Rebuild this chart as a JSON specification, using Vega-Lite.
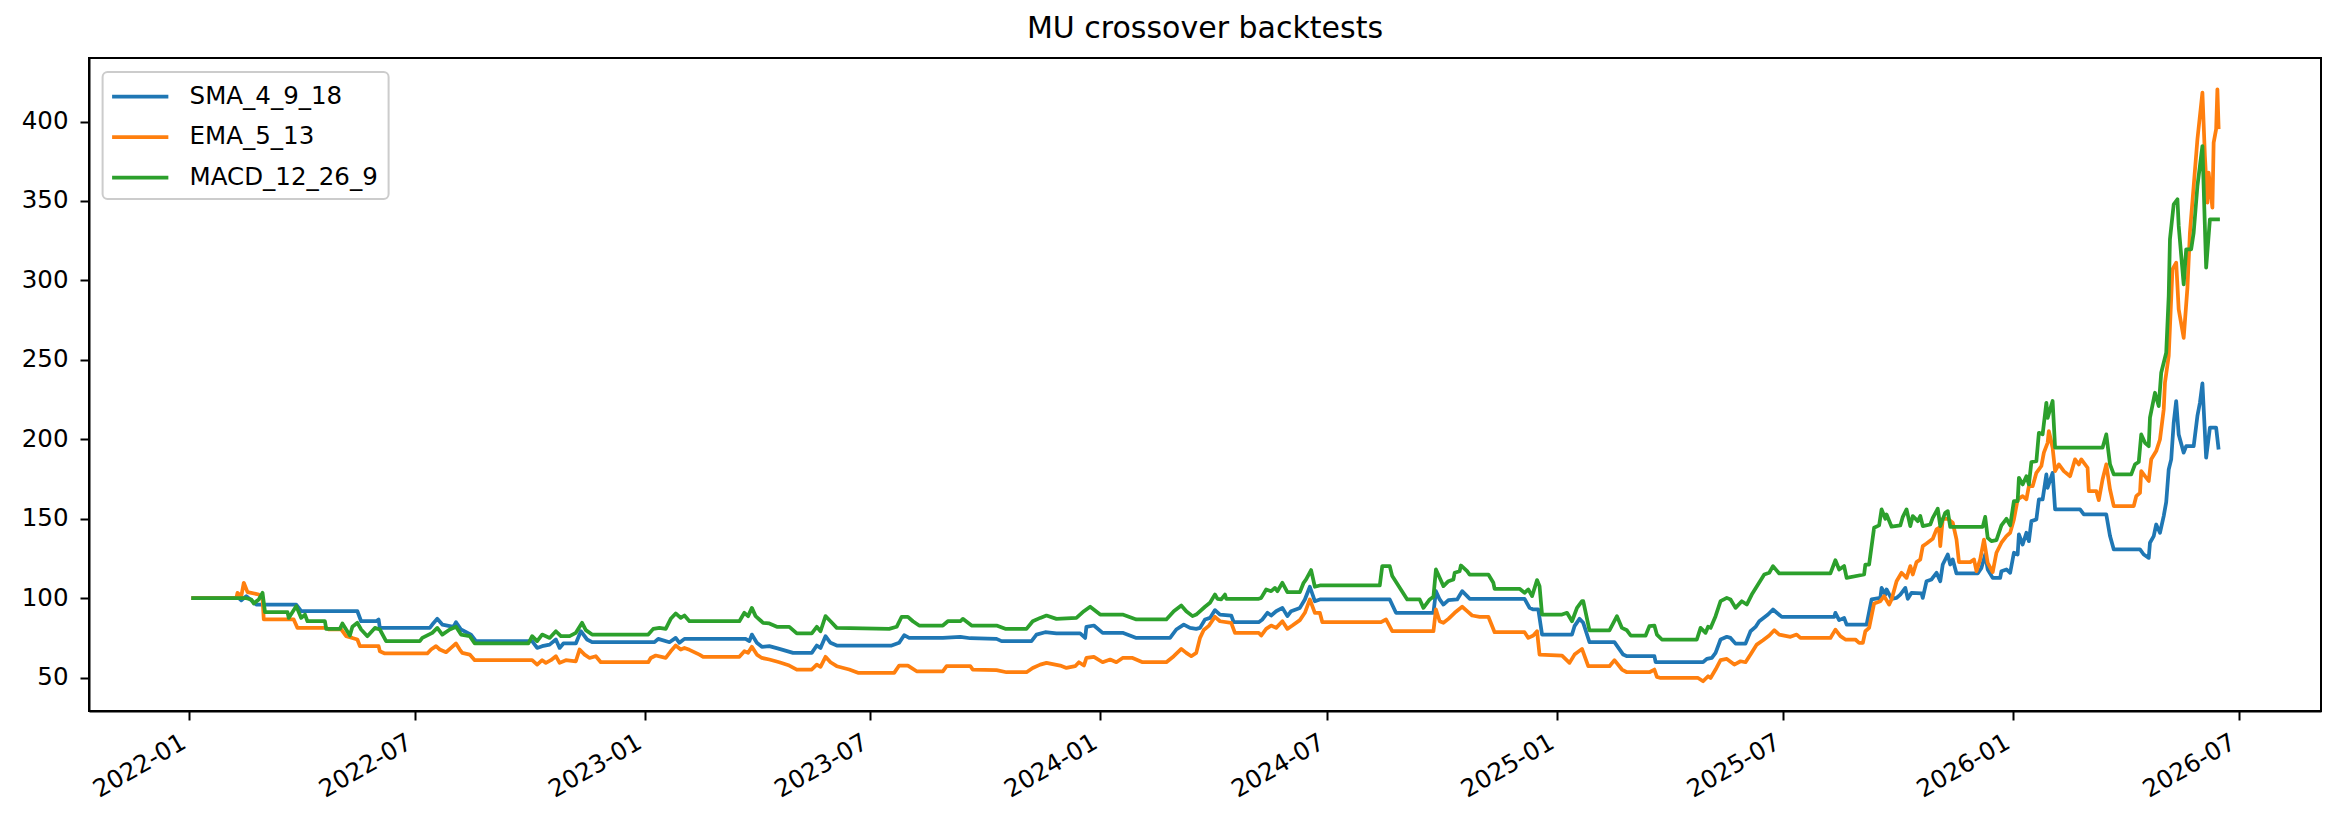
{
  "$schema": "https://vega.github.io/schema/vega-lite/v6.json",
  "width": 2232,
  "height": 653,
  "autosize": {"type": "none"},
  "padding": {"left": 89, "top": 58, "right": 18, "bottom": 116},
  "background": "white",
  "title": {
    "text": "MU crossover backtests",
    "fontSize": 30,
    "font": "DejaVu Sans",
    "fontWeight": "normal",
    "color": "#000",
    "offset": 14
  },
  "data": {
    "format": {"parse": {"date": "utc:'%Y-%m-%d'"}},
    "values": [
      {"date": "2022-01-03", "series": "SMA_4_9_18", "value": 100},
      {"date": "2022-02-10", "series": "SMA_4_9_18", "value": 100},
      {"date": "2022-02-12", "series": "SMA_4_9_18", "value": 98.6},
      {"date": "2022-02-16", "series": "SMA_4_9_18", "value": 101.3},
      {"date": "2022-02-24", "series": "SMA_4_9_18", "value": 96},
      {"date": "2022-03-28", "series": "SMA_4_9_18", "value": 96},
      {"date": "2022-04-01", "series": "SMA_4_9_18", "value": 91.8},
      {"date": "2022-05-16", "series": "SMA_4_9_18", "value": 91.8},
      {"date": "2022-05-19", "series": "SMA_4_9_18", "value": 85.5},
      {"date": "2022-05-31", "series": "SMA_4_9_18", "value": 85.5},
      {"date": "2022-06-02", "series": "SMA_4_9_18", "value": 86.6},
      {"date": "2022-06-03", "series": "SMA_4_9_18", "value": 81.3},
      {"date": "2022-07-13", "series": "SMA_4_9_18", "value": 81.3},
      {"date": "2022-07-15", "series": "SMA_4_9_18", "value": 83.4},
      {"date": "2022-07-19", "series": "SMA_4_9_18", "value": 87},
      {"date": "2022-07-23", "series": "SMA_4_9_18", "value": 83.4},
      {"date": "2022-08-01", "series": "SMA_4_9_18", "value": 82},
      {"date": "2022-08-03", "series": "SMA_4_9_18", "value": 84.9},
      {"date": "2022-08-07", "series": "SMA_4_9_18", "value": 80.3},
      {"date": "2022-08-15", "series": "SMA_4_9_18", "value": 77.1},
      {"date": "2022-08-19", "series": "SMA_4_9_18", "value": 73},
      {"date": "2022-10-03", "series": "SMA_4_9_18", "value": 73},
      {"date": "2022-10-07", "series": "SMA_4_9_18", "value": 68.7},
      {"date": "2022-10-11", "series": "SMA_4_9_18", "value": 69.8},
      {"date": "2022-10-17", "series": "SMA_4_9_18", "value": 70.8},
      {"date": "2022-10-22", "series": "SMA_4_9_18", "value": 74},
      {"date": "2022-10-25", "series": "SMA_4_9_18", "value": 68.7},
      {"date": "2022-10-28", "series": "SMA_4_9_18", "value": 71.5},
      {"date": "2022-11-07", "series": "SMA_4_9_18", "value": 71.5},
      {"date": "2022-11-11", "series": "SMA_4_9_18", "value": 79.2},
      {"date": "2022-11-16", "series": "SMA_4_9_18", "value": 74},
      {"date": "2022-11-20", "series": "SMA_4_9_18", "value": 72.3},
      {"date": "2023-01-09", "series": "SMA_4_9_18", "value": 72.3},
      {"date": "2023-01-12", "series": "SMA_4_9_18", "value": 74.4},
      {"date": "2023-01-21", "series": "SMA_4_9_18", "value": 72.3},
      {"date": "2023-01-26", "series": "SMA_4_9_18", "value": 75},
      {"date": "2023-01-29", "series": "SMA_4_9_18", "value": 71.9},
      {"date": "2023-02-02", "series": "SMA_4_9_18", "value": 74.4},
      {"date": "2023-03-23", "series": "SMA_4_9_18", "value": 74.4},
      {"date": "2023-03-26", "series": "SMA_4_9_18", "value": 73},
      {"date": "2023-03-28", "series": "SMA_4_9_18", "value": 77.1},
      {"date": "2023-04-01", "series": "SMA_4_9_18", "value": 71.9},
      {"date": "2023-04-05", "series": "SMA_4_9_18", "value": 69.4},
      {"date": "2023-04-11", "series": "SMA_4_9_18", "value": 69.8},
      {"date": "2023-04-19", "series": "SMA_4_9_18", "value": 68.1},
      {"date": "2023-04-30", "series": "SMA_4_9_18", "value": 65.6},
      {"date": "2023-05-15", "series": "SMA_4_9_18", "value": 65.6},
      {"date": "2023-05-19", "series": "SMA_4_9_18", "value": 70.2},
      {"date": "2023-05-22", "series": "SMA_4_9_18", "value": 68.7},
      {"date": "2023-05-26", "series": "SMA_4_9_18", "value": 76.1},
      {"date": "2023-05-30", "series": "SMA_4_9_18", "value": 71.9},
      {"date": "2023-06-04", "series": "SMA_4_9_18", "value": 70.2},
      {"date": "2023-07-18", "series": "SMA_4_9_18", "value": 70.2},
      {"date": "2023-07-24", "series": "SMA_4_9_18", "value": 71.9},
      {"date": "2023-07-28", "series": "SMA_4_9_18", "value": 76.7},
      {"date": "2023-08-01", "series": "SMA_4_9_18", "value": 75},
      {"date": "2023-08-28", "series": "SMA_4_9_18", "value": 75},
      {"date": "2023-09-11", "series": "SMA_4_9_18", "value": 75.7},
      {"date": "2023-09-19", "series": "SMA_4_9_18", "value": 74.8},
      {"date": "2023-10-10", "series": "SMA_4_9_18", "value": 74.4},
      {"date": "2023-10-14", "series": "SMA_4_9_18", "value": 73},
      {"date": "2023-11-07", "series": "SMA_4_9_18", "value": 73},
      {"date": "2023-11-11", "series": "SMA_4_9_18", "value": 77.1},
      {"date": "2023-11-18", "series": "SMA_4_9_18", "value": 78.6},
      {"date": "2023-11-27", "series": "SMA_4_9_18", "value": 77.8},
      {"date": "2023-12-16", "series": "SMA_4_9_18", "value": 77.8},
      {"date": "2023-12-20", "series": "SMA_4_9_18", "value": 75},
      {"date": "2023-12-21", "series": "SMA_4_9_18", "value": 82},
      {"date": "2023-12-27", "series": "SMA_4_9_18", "value": 82.8},
      {"date": "2024-01-03", "series": "SMA_4_9_18", "value": 78.2},
      {"date": "2024-01-19", "series": "SMA_4_9_18", "value": 78.2},
      {"date": "2024-01-30", "series": "SMA_4_9_18", "value": 75},
      {"date": "2024-02-26", "series": "SMA_4_9_18", "value": 75},
      {"date": "2024-03-02", "series": "SMA_4_9_18", "value": 80.3},
      {"date": "2024-03-08", "series": "SMA_4_9_18", "value": 83.4},
      {"date": "2024-03-13", "series": "SMA_4_9_18", "value": 81.3},
      {"date": "2024-03-18", "series": "SMA_4_9_18", "value": 80.7},
      {"date": "2024-03-21", "series": "SMA_4_9_18", "value": 81.3},
      {"date": "2024-03-25", "series": "SMA_4_9_18", "value": 86.6},
      {"date": "2024-03-29", "series": "SMA_4_9_18", "value": 87.6},
      {"date": "2024-04-02", "series": "SMA_4_9_18", "value": 92.5},
      {"date": "2024-04-06", "series": "SMA_4_9_18", "value": 89.7},
      {"date": "2024-04-15", "series": "SMA_4_9_18", "value": 89.1},
      {"date": "2024-04-17", "series": "SMA_4_9_18", "value": 84.9},
      {"date": "2024-05-07", "series": "SMA_4_9_18", "value": 84.9},
      {"date": "2024-05-10", "series": "SMA_4_9_18", "value": 86.6},
      {"date": "2024-05-14", "series": "SMA_4_9_18", "value": 90.8},
      {"date": "2024-05-17", "series": "SMA_4_9_18", "value": 89.1},
      {"date": "2024-05-21", "series": "SMA_4_9_18", "value": 91.8},
      {"date": "2024-05-26", "series": "SMA_4_9_18", "value": 93.9},
      {"date": "2024-05-30", "series": "SMA_4_9_18", "value": 88.7},
      {"date": "2024-06-02", "series": "SMA_4_9_18", "value": 91.8},
      {"date": "2024-06-09", "series": "SMA_4_9_18", "value": 93.9},
      {"date": "2024-06-13", "series": "SMA_4_9_18", "value": 99.2},
      {"date": "2024-06-17", "series": "SMA_4_9_18", "value": 107.2},
      {"date": "2024-06-21", "series": "SMA_4_9_18", "value": 98.1},
      {"date": "2024-06-25", "series": "SMA_4_9_18", "value": 99.2},
      {"date": "2024-08-20", "series": "SMA_4_9_18", "value": 99.2},
      {"date": "2024-08-25", "series": "SMA_4_9_18", "value": 90.8},
      {"date": "2024-09-24", "series": "SMA_4_9_18", "value": 90.8},
      {"date": "2024-09-26", "series": "SMA_4_9_18", "value": 104.4},
      {"date": "2024-09-29", "series": "SMA_4_9_18", "value": 99.2},
      {"date": "2024-10-02", "series": "SMA_4_9_18", "value": 96},
      {"date": "2024-10-06", "series": "SMA_4_9_18", "value": 98.8},
      {"date": "2024-10-13", "series": "SMA_4_9_18", "value": 99.2},
      {"date": "2024-10-17", "series": "SMA_4_9_18", "value": 104.4},
      {"date": "2024-10-21", "series": "SMA_4_9_18", "value": 101.3},
      {"date": "2024-10-23", "series": "SMA_4_9_18", "value": 99.6},
      {"date": "2024-12-06", "series": "SMA_4_9_18", "value": 99.6},
      {"date": "2024-12-10", "series": "SMA_4_9_18", "value": 93.9},
      {"date": "2024-12-13", "series": "SMA_4_9_18", "value": 92.9},
      {"date": "2024-12-17", "series": "SMA_4_9_18", "value": 92.9},
      {"date": "2024-12-20", "series": "SMA_4_9_18", "value": 77.1},
      {"date": "2025-01-13", "series": "SMA_4_9_18", "value": 77.1},
      {"date": "2025-01-15", "series": "SMA_4_9_18", "value": 82.4},
      {"date": "2025-01-19", "series": "SMA_4_9_18", "value": 87},
      {"date": "2025-01-22", "series": "SMA_4_9_18", "value": 84.5},
      {"date": "2025-01-27", "series": "SMA_4_9_18", "value": 72.3},
      {"date": "2025-02-16", "series": "SMA_4_9_18", "value": 72.3},
      {"date": "2025-02-23", "series": "SMA_4_9_18", "value": 64.5},
      {"date": "2025-02-26", "series": "SMA_4_9_18", "value": 63.5},
      {"date": "2025-03-20", "series": "SMA_4_9_18", "value": 63.5},
      {"date": "2025-03-21", "series": "SMA_4_9_18", "value": 59.7},
      {"date": "2025-04-28", "series": "SMA_4_9_18", "value": 59.7},
      {"date": "2025-05-01", "series": "SMA_4_9_18", "value": 61.8},
      {"date": "2025-05-05", "series": "SMA_4_9_18", "value": 62.4},
      {"date": "2025-05-08", "series": "SMA_4_9_18", "value": 65.6},
      {"date": "2025-05-12", "series": "SMA_4_9_18", "value": 74},
      {"date": "2025-05-17", "series": "SMA_4_9_18", "value": 75.7},
      {"date": "2025-05-20", "series": "SMA_4_9_18", "value": 75},
      {"date": "2025-05-24", "series": "SMA_4_9_18", "value": 71.4},
      {"date": "2025-06-01", "series": "SMA_4_9_18", "value": 71.4},
      {"date": "2025-06-05", "series": "SMA_4_9_18", "value": 79.2},
      {"date": "2025-06-09", "series": "SMA_4_9_18", "value": 81.9},
      {"date": "2025-06-12", "series": "SMA_4_9_18", "value": 85.5},
      {"date": "2025-06-19", "series": "SMA_4_9_18", "value": 89.7},
      {"date": "2025-06-23", "series": "SMA_4_9_18", "value": 92.9},
      {"date": "2025-06-30", "series": "SMA_4_9_18", "value": 88.2},
      {"date": "2025-08-11", "series": "SMA_4_9_18", "value": 88.2},
      {"date": "2025-08-12", "series": "SMA_4_9_18", "value": 90.8},
      {"date": "2025-08-15", "series": "SMA_4_9_18", "value": 86.2},
      {"date": "2025-08-19", "series": "SMA_4_9_18", "value": 87.6},
      {"date": "2025-08-21", "series": "SMA_4_9_18", "value": 83.4},
      {"date": "2025-09-06", "series": "SMA_4_9_18", "value": 83.4},
      {"date": "2025-09-10", "series": "SMA_4_9_18", "value": 99.2},
      {"date": "2025-09-17", "series": "SMA_4_9_18", "value": 100.2},
      {"date": "2025-09-18", "series": "SMA_4_9_18", "value": 106.5},
      {"date": "2025-09-21", "series": "SMA_4_9_18", "value": 102.3},
      {"date": "2025-09-22", "series": "SMA_4_9_18", "value": 105.5},
      {"date": "2025-09-26", "series": "SMA_4_9_18", "value": 99.6},
      {"date": "2025-09-30", "series": "SMA_4_9_18", "value": 100.2},
      {"date": "2025-10-03", "series": "SMA_4_9_18", "value": 102.3},
      {"date": "2025-10-07", "series": "SMA_4_9_18", "value": 106.5},
      {"date": "2025-10-09", "series": "SMA_4_9_18", "value": 99.6},
      {"date": "2025-10-12", "series": "SMA_4_9_18", "value": 103.4},
      {"date": "2025-10-20", "series": "SMA_4_9_18", "value": 103},
      {"date": "2025-10-21", "series": "SMA_4_9_18", "value": 100.2},
      {"date": "2025-10-24", "series": "SMA_4_9_18", "value": 110.7},
      {"date": "2025-10-28", "series": "SMA_4_9_18", "value": 111.8},
      {"date": "2025-11-01", "series": "SMA_4_9_18", "value": 116},
      {"date": "2025-11-04", "series": "SMA_4_9_18", "value": 110.7},
      {"date": "2025-11-06", "series": "SMA_4_9_18", "value": 121.2},
      {"date": "2025-11-10", "series": "SMA_4_9_18", "value": 127.5},
      {"date": "2025-11-12", "series": "SMA_4_9_18", "value": 121.2},
      {"date": "2025-11-14", "series": "SMA_4_9_18", "value": 124.4},
      {"date": "2025-11-17", "series": "SMA_4_9_18", "value": 115.6},
      {"date": "2025-12-04", "series": "SMA_4_9_18", "value": 115.6},
      {"date": "2025-12-07", "series": "SMA_4_9_18", "value": 119.1},
      {"date": "2025-12-10", "series": "SMA_4_9_18", "value": 127.5},
      {"date": "2025-12-12", "series": "SMA_4_9_18", "value": 118.1},
      {"date": "2025-12-16", "series": "SMA_4_9_18", "value": 112.8},
      {"date": "2025-12-22", "series": "SMA_4_9_18", "value": 112.8},
      {"date": "2025-12-23", "series": "SMA_4_9_18", "value": 117},
      {"date": "2025-12-27", "series": "SMA_4_9_18", "value": 118.1},
      {"date": "2025-12-30", "series": "SMA_4_9_18", "value": 116},
      {"date": "2026-01-02", "series": "SMA_4_9_18", "value": 128.6},
      {"date": "2026-01-05", "series": "SMA_4_9_18", "value": 127.5},
      {"date": "2026-01-06", "series": "SMA_4_9_18", "value": 140.1},
      {"date": "2026-01-09", "series": "SMA_4_9_18", "value": 133.8},
      {"date": "2026-01-12", "series": "SMA_4_9_18", "value": 141.2},
      {"date": "2026-01-14", "series": "SMA_4_9_18", "value": 135.9},
      {"date": "2026-01-16", "series": "SMA_4_9_18", "value": 148.5},
      {"date": "2026-01-20", "series": "SMA_4_9_18", "value": 149.6},
      {"date": "2026-01-22", "series": "SMA_4_9_18", "value": 162.2},
      {"date": "2026-01-25", "series": "SMA_4_9_18", "value": 162.2},
      {"date": "2026-01-28", "series": "SMA_4_9_18", "value": 177.9},
      {"date": "2026-01-29", "series": "SMA_4_9_18", "value": 169.5},
      {"date": "2026-02-02", "series": "SMA_4_9_18", "value": 178.9},
      {"date": "2026-02-04", "series": "SMA_4_9_18", "value": 155.9},
      {"date": "2026-02-24", "series": "SMA_4_9_18", "value": 155.9},
      {"date": "2026-02-27", "series": "SMA_4_9_18", "value": 152.7},
      {"date": "2026-03-17", "series": "SMA_4_9_18", "value": 152.7},
      {"date": "2026-03-20", "series": "SMA_4_9_18", "value": 139.1},
      {"date": "2026-03-23", "series": "SMA_4_9_18", "value": 130.7},
      {"date": "2026-04-13", "series": "SMA_4_9_18", "value": 130.7},
      {"date": "2026-04-16", "series": "SMA_4_9_18", "value": 127.5},
      {"date": "2026-04-20", "series": "SMA_4_9_18", "value": 125.4},
      {"date": "2026-04-21", "series": "SMA_4_9_18", "value": 134.9},
      {"date": "2026-04-24", "series": "SMA_4_9_18", "value": 139.1},
      {"date": "2026-04-26", "series": "SMA_4_9_18", "value": 146.4},
      {"date": "2026-04-29", "series": "SMA_4_9_18", "value": 141.2},
      {"date": "2026-05-02", "series": "SMA_4_9_18", "value": 151.7},
      {"date": "2026-05-04", "series": "SMA_4_9_18", "value": 160.5},
      {"date": "2026-05-06", "series": "SMA_4_9_18", "value": 181},
      {"date": "2026-05-08", "series": "SMA_4_9_18", "value": 187.4},
      {"date": "2026-05-10", "series": "SMA_4_9_18", "value": 210.4},
      {"date": "2026-05-12", "series": "SMA_4_9_18", "value": 224.1},
      {"date": "2026-05-14", "series": "SMA_4_9_18", "value": 203.1},
      {"date": "2026-05-18", "series": "SMA_4_9_18", "value": 191.6},
      {"date": "2026-05-20", "series": "SMA_4_9_18", "value": 195.7},
      {"date": "2026-05-26", "series": "SMA_4_9_18", "value": 195.7},
      {"date": "2026-05-29", "series": "SMA_4_9_18", "value": 214.7},
      {"date": "2026-05-31", "series": "SMA_4_9_18", "value": 223},
      {"date": "2026-06-02", "series": "SMA_4_9_18", "value": 235.2},
      {"date": "2026-06-05", "series": "SMA_4_9_18", "value": 188.4},
      {"date": "2026-06-08", "series": "SMA_4_9_18", "value": 207.3},
      {"date": "2026-06-13", "series": "SMA_4_9_18", "value": 207.3},
      {"date": "2026-06-15", "series": "SMA_4_9_18", "value": 193.6},

      {"date": "2022-01-03", "series": "EMA_5_13", "value": 100},
      {"date": "2022-02-08", "series": "EMA_5_13", "value": 100},
      {"date": "2022-02-09", "series": "EMA_5_13", "value": 103.4},
      {"date": "2022-02-12", "series": "EMA_5_13", "value": 101.3},
      {"date": "2022-02-14", "series": "EMA_5_13", "value": 109.7},
      {"date": "2022-02-17", "series": "EMA_5_13", "value": 103.8},
      {"date": "2022-02-26", "series": "EMA_5_13", "value": 102.3},
      {"date": "2022-03-01", "series": "EMA_5_13", "value": 100.2},
      {"date": "2022-03-02", "series": "EMA_5_13", "value": 86.6},
      {"date": "2022-03-26", "series": "EMA_5_13", "value": 86.6},
      {"date": "2022-03-29", "series": "EMA_5_13", "value": 81.3},
      {"date": "2022-04-21", "series": "EMA_5_13", "value": 81.3},
      {"date": "2022-04-23", "series": "EMA_5_13", "value": 80.3},
      {"date": "2022-05-03", "series": "EMA_5_13", "value": 80.3},
      {"date": "2022-05-07", "series": "EMA_5_13", "value": 76.1},
      {"date": "2022-05-12", "series": "EMA_5_13", "value": 75},
      {"date": "2022-05-16", "series": "EMA_5_13", "value": 74},
      {"date": "2022-05-18", "series": "EMA_5_13", "value": 69.8},
      {"date": "2022-06-02", "series": "EMA_5_13", "value": 69.8},
      {"date": "2022-06-03", "series": "EMA_5_13", "value": 66.6},
      {"date": "2022-06-07", "series": "EMA_5_13", "value": 65.2},
      {"date": "2022-07-11", "series": "EMA_5_13", "value": 65.2},
      {"date": "2022-07-14", "series": "EMA_5_13", "value": 67.7},
      {"date": "2022-07-18", "series": "EMA_5_13", "value": 69.8},
      {"date": "2022-07-21", "series": "EMA_5_13", "value": 67.7},
      {"date": "2022-07-26", "series": "EMA_5_13", "value": 66},
      {"date": "2022-07-30", "series": "EMA_5_13", "value": 68.7},
      {"date": "2022-08-03", "series": "EMA_5_13", "value": 71.5},
      {"date": "2022-08-06", "series": "EMA_5_13", "value": 67.7},
      {"date": "2022-08-08", "series": "EMA_5_13", "value": 65.6},
      {"date": "2022-08-14", "series": "EMA_5_13", "value": 64.5},
      {"date": "2022-08-18", "series": "EMA_5_13", "value": 61},
      {"date": "2022-10-03", "series": "EMA_5_13", "value": 61},
      {"date": "2022-10-07", "series": "EMA_5_13", "value": 58.2},
      {"date": "2022-10-11", "series": "EMA_5_13", "value": 61},
      {"date": "2022-10-14", "series": "EMA_5_13", "value": 59.3},
      {"date": "2022-10-18", "series": "EMA_5_13", "value": 61},
      {"date": "2022-10-22", "series": "EMA_5_13", "value": 63.5},
      {"date": "2022-10-25", "series": "EMA_5_13", "value": 59.3},
      {"date": "2022-10-30", "series": "EMA_5_13", "value": 61},
      {"date": "2022-11-07", "series": "EMA_5_13", "value": 60.3},
      {"date": "2022-11-10", "series": "EMA_5_13", "value": 67.7},
      {"date": "2022-11-14", "series": "EMA_5_13", "value": 64.5},
      {"date": "2022-11-18", "series": "EMA_5_13", "value": 62.4},
      {"date": "2022-11-23", "series": "EMA_5_13", "value": 63.5},
      {"date": "2022-11-27", "series": "EMA_5_13", "value": 59.7},
      {"date": "2023-01-04", "series": "EMA_5_13", "value": 59.7},
      {"date": "2023-01-06", "series": "EMA_5_13", "value": 62.4},
      {"date": "2023-01-10", "series": "EMA_5_13", "value": 63.9},
      {"date": "2023-01-18", "series": "EMA_5_13", "value": 62.4},
      {"date": "2023-01-22", "series": "EMA_5_13", "value": 66.6},
      {"date": "2023-01-26", "series": "EMA_5_13", "value": 70.2},
      {"date": "2023-01-30", "series": "EMA_5_13", "value": 67.7},
      {"date": "2023-02-02", "series": "EMA_5_13", "value": 68.7},
      {"date": "2023-02-06", "series": "EMA_5_13", "value": 67.5},
      {"date": "2023-02-14", "series": "EMA_5_13", "value": 64.5},
      {"date": "2023-02-17", "series": "EMA_5_13", "value": 63.1},
      {"date": "2023-03-18", "series": "EMA_5_13", "value": 63.1},
      {"date": "2023-03-22", "series": "EMA_5_13", "value": 66.6},
      {"date": "2023-03-25", "series": "EMA_5_13", "value": 65.6},
      {"date": "2023-03-28", "series": "EMA_5_13", "value": 69.4},
      {"date": "2023-04-01", "series": "EMA_5_13", "value": 64.5},
      {"date": "2023-04-05", "series": "EMA_5_13", "value": 62.4},
      {"date": "2023-04-11", "series": "EMA_5_13", "value": 61.4},
      {"date": "2023-04-19", "series": "EMA_5_13", "value": 59.7},
      {"date": "2023-04-27", "series": "EMA_5_13", "value": 57.6},
      {"date": "2023-05-03", "series": "EMA_5_13", "value": 55.1},
      {"date": "2023-05-15", "series": "EMA_5_13", "value": 55.1},
      {"date": "2023-05-19", "series": "EMA_5_13", "value": 58.2},
      {"date": "2023-05-22", "series": "EMA_5_13", "value": 56.8},
      {"date": "2023-05-26", "series": "EMA_5_13", "value": 63.1},
      {"date": "2023-05-30", "series": "EMA_5_13", "value": 59.7},
      {"date": "2023-06-04", "series": "EMA_5_13", "value": 57.2},
      {"date": "2023-06-14", "series": "EMA_5_13", "value": 55.1},
      {"date": "2023-06-21", "series": "EMA_5_13", "value": 53},
      {"date": "2023-07-20", "series": "EMA_5_13", "value": 53},
      {"date": "2023-07-24", "series": "EMA_5_13", "value": 57.6},
      {"date": "2023-07-31", "series": "EMA_5_13", "value": 57.6},
      {"date": "2023-08-07", "series": "EMA_5_13", "value": 54},
      {"date": "2023-08-28", "series": "EMA_5_13", "value": 54},
      {"date": "2023-08-31", "series": "EMA_5_13", "value": 57.2},
      {"date": "2023-09-19", "series": "EMA_5_13", "value": 57.2},
      {"date": "2023-09-21", "series": "EMA_5_13", "value": 55.1},
      {"date": "2023-10-10", "series": "EMA_5_13", "value": 54.7},
      {"date": "2023-10-18", "series": "EMA_5_13", "value": 53.4},
      {"date": "2023-11-03", "series": "EMA_5_13", "value": 53.4},
      {"date": "2023-11-08", "series": "EMA_5_13", "value": 56.1},
      {"date": "2023-11-14", "series": "EMA_5_13", "value": 58.2},
      {"date": "2023-11-19", "series": "EMA_5_13", "value": 59.3},
      {"date": "2023-11-30", "series": "EMA_5_13", "value": 57.6},
      {"date": "2023-12-05", "series": "EMA_5_13", "value": 56.1},
      {"date": "2023-12-12", "series": "EMA_5_13", "value": 57.2},
      {"date": "2023-12-15", "series": "EMA_5_13", "value": 59.7},
      {"date": "2023-12-19", "series": "EMA_5_13", "value": 57.6},
      {"date": "2023-12-21", "series": "EMA_5_13", "value": 62.4},
      {"date": "2023-12-27", "series": "EMA_5_13", "value": 63.1},
      {"date": "2024-01-03", "series": "EMA_5_13", "value": 59.7},
      {"date": "2024-01-09", "series": "EMA_5_13", "value": 61.4},
      {"date": "2024-01-14", "series": "EMA_5_13", "value": 59.7},
      {"date": "2024-01-19", "series": "EMA_5_13", "value": 62.4},
      {"date": "2024-01-27", "series": "EMA_5_13", "value": 62.4},
      {"date": "2024-02-04", "series": "EMA_5_13", "value": 59.7},
      {"date": "2024-02-23", "series": "EMA_5_13", "value": 59.7},
      {"date": "2024-02-29", "series": "EMA_5_13", "value": 63.5},
      {"date": "2024-03-06", "series": "EMA_5_13", "value": 68.1},
      {"date": "2024-03-10", "series": "EMA_5_13", "value": 65.6},
      {"date": "2024-03-14", "series": "EMA_5_13", "value": 63.5},
      {"date": "2024-03-18", "series": "EMA_5_13", "value": 65.6},
      {"date": "2024-03-21", "series": "EMA_5_13", "value": 75},
      {"date": "2024-03-24", "series": "EMA_5_13", "value": 80},
      {"date": "2024-03-28", "series": "EMA_5_13", "value": 82.6},
      {"date": "2024-04-02", "series": "EMA_5_13", "value": 88.3},
      {"date": "2024-04-06", "series": "EMA_5_13", "value": 85.5},
      {"date": "2024-04-15", "series": "EMA_5_13", "value": 84.5},
      {"date": "2024-04-18", "series": "EMA_5_13", "value": 78.2},
      {"date": "2024-05-07", "series": "EMA_5_13", "value": 78.2},
      {"date": "2024-05-09", "series": "EMA_5_13", "value": 76.5},
      {"date": "2024-05-13", "series": "EMA_5_13", "value": 80.7},
      {"date": "2024-05-17", "series": "EMA_5_13", "value": 82.8},
      {"date": "2024-05-21", "series": "EMA_5_13", "value": 81.3},
      {"date": "2024-05-26", "series": "EMA_5_13", "value": 85.5},
      {"date": "2024-05-30", "series": "EMA_5_13", "value": 80.7},
      {"date": "2024-06-03", "series": "EMA_5_13", "value": 82.8},
      {"date": "2024-06-09", "series": "EMA_5_13", "value": 86.2},
      {"date": "2024-06-13", "series": "EMA_5_13", "value": 90.8},
      {"date": "2024-06-17", "series": "EMA_5_13", "value": 99.2},
      {"date": "2024-06-21", "series": "EMA_5_13", "value": 90.8},
      {"date": "2024-06-25", "series": "EMA_5_13", "value": 90.8},
      {"date": "2024-06-27", "series": "EMA_5_13", "value": 84.9},
      {"date": "2024-08-13", "series": "EMA_5_13", "value": 84.9},
      {"date": "2024-08-17", "series": "EMA_5_13", "value": 86.6},
      {"date": "2024-08-22", "series": "EMA_5_13", "value": 79.2},
      {"date": "2024-09-24", "series": "EMA_5_13", "value": 79.2},
      {"date": "2024-09-26", "series": "EMA_5_13", "value": 92.9},
      {"date": "2024-09-29", "series": "EMA_5_13", "value": 85.5},
      {"date": "2024-10-02", "series": "EMA_5_13", "value": 84.5},
      {"date": "2024-10-06", "series": "EMA_5_13", "value": 87},
      {"date": "2024-10-11", "series": "EMA_5_13", "value": 90.8},
      {"date": "2024-10-17", "series": "EMA_5_13", "value": 94.6},
      {"date": "2024-10-21", "series": "EMA_5_13", "value": 91.8},
      {"date": "2024-10-25", "series": "EMA_5_13", "value": 89.1},
      {"date": "2024-10-31", "series": "EMA_5_13", "value": 88.3},
      {"date": "2024-11-07", "series": "EMA_5_13", "value": 88.3},
      {"date": "2024-11-12", "series": "EMA_5_13", "value": 78.6},
      {"date": "2024-12-06", "series": "EMA_5_13", "value": 78.6},
      {"date": "2024-12-09", "series": "EMA_5_13", "value": 75},
      {"date": "2024-12-13", "series": "EMA_5_13", "value": 76.5},
      {"date": "2024-12-16", "series": "EMA_5_13", "value": 79.2},
      {"date": "2024-12-18", "series": "EMA_5_13", "value": 64.5},
      {"date": "2025-01-05", "series": "EMA_5_13", "value": 63.9},
      {"date": "2025-01-11", "series": "EMA_5_13", "value": 59.3},
      {"date": "2025-01-15", "series": "EMA_5_13", "value": 64.5},
      {"date": "2025-01-21", "series": "EMA_5_13", "value": 68.1},
      {"date": "2025-01-26", "series": "EMA_5_13", "value": 57.2},
      {"date": "2025-02-12", "series": "EMA_5_13", "value": 57.2},
      {"date": "2025-02-16", "series": "EMA_5_13", "value": 61},
      {"date": "2025-02-22", "series": "EMA_5_13", "value": 55.1},
      {"date": "2025-02-26", "series": "EMA_5_13", "value": 53.4},
      {"date": "2025-03-16", "series": "EMA_5_13", "value": 53.4},
      {"date": "2025-03-20", "series": "EMA_5_13", "value": 55.1},
      {"date": "2025-03-22", "series": "EMA_5_13", "value": 50.5},
      {"date": "2025-03-25", "series": "EMA_5_13", "value": 49.8},
      {"date": "2025-04-24", "series": "EMA_5_13", "value": 49.8},
      {"date": "2025-04-28", "series": "EMA_5_13", "value": 47.7},
      {"date": "2025-05-02", "series": "EMA_5_13", "value": 50.9},
      {"date": "2025-05-04", "series": "EMA_5_13", "value": 49.8},
      {"date": "2025-05-08", "series": "EMA_5_13", "value": 55.1},
      {"date": "2025-05-12", "series": "EMA_5_13", "value": 61},
      {"date": "2025-05-17", "series": "EMA_5_13", "value": 61.8},
      {"date": "2025-05-23", "series": "EMA_5_13", "value": 58.2},
      {"date": "2025-05-28", "series": "EMA_5_13", "value": 60.3},
      {"date": "2025-06-01", "series": "EMA_5_13", "value": 59.7},
      {"date": "2025-06-05", "series": "EMA_5_13", "value": 64.5},
      {"date": "2025-06-10", "series": "EMA_5_13", "value": 70.8},
      {"date": "2025-06-15", "series": "EMA_5_13", "value": 73.5},
      {"date": "2025-06-20", "series": "EMA_5_13", "value": 76.5},
      {"date": "2025-06-24", "series": "EMA_5_13", "value": 79.8},
      {"date": "2025-06-28", "series": "EMA_5_13", "value": 77.1},
      {"date": "2025-07-07", "series": "EMA_5_13", "value": 75.7},
      {"date": "2025-07-12", "series": "EMA_5_13", "value": 77.1},
      {"date": "2025-07-15", "series": "EMA_5_13", "value": 75},
      {"date": "2025-08-08", "series": "EMA_5_13", "value": 75},
      {"date": "2025-08-12", "series": "EMA_5_13", "value": 80.2},
      {"date": "2025-08-16", "series": "EMA_5_13", "value": 76.1},
      {"date": "2025-08-20", "series": "EMA_5_13", "value": 74},
      {"date": "2025-08-28", "series": "EMA_5_13", "value": 74},
      {"date": "2025-08-31", "series": "EMA_5_13", "value": 71.9},
      {"date": "2025-09-03", "series": "EMA_5_13", "value": 71.9},
      {"date": "2025-09-05", "series": "EMA_5_13", "value": 79.2},
      {"date": "2025-09-08", "series": "EMA_5_13", "value": 81.3},
      {"date": "2025-09-12", "series": "EMA_5_13", "value": 96.7},
      {"date": "2025-09-17", "series": "EMA_5_13", "value": 98.1},
      {"date": "2025-09-20", "series": "EMA_5_13", "value": 101.3},
      {"date": "2025-09-24", "series": "EMA_5_13", "value": 96},
      {"date": "2025-09-26", "series": "EMA_5_13", "value": 99.2},
      {"date": "2025-09-30", "series": "EMA_5_13", "value": 110.7},
      {"date": "2025-10-04", "series": "EMA_5_13", "value": 116},
      {"date": "2025-10-08", "series": "EMA_5_13", "value": 112.8},
      {"date": "2025-10-11", "series": "EMA_5_13", "value": 120.2},
      {"date": "2025-10-13", "series": "EMA_5_13", "value": 114.9},
      {"date": "2025-10-16", "series": "EMA_5_13", "value": 122.7},
      {"date": "2025-10-19", "series": "EMA_5_13", "value": 124.4},
      {"date": "2025-10-21", "series": "EMA_5_13", "value": 132.8},
      {"date": "2025-10-24", "series": "EMA_5_13", "value": 134.4},
      {"date": "2025-10-29", "series": "EMA_5_13", "value": 137.4},
      {"date": "2025-11-01", "series": "EMA_5_13", "value": 143.3},
      {"date": "2025-11-03", "series": "EMA_5_13", "value": 144.3},
      {"date": "2025-11-04", "series": "EMA_5_13", "value": 132.8},
      {"date": "2025-11-06", "series": "EMA_5_13", "value": 150},
      {"date": "2025-11-10", "series": "EMA_5_13", "value": 150},
      {"date": "2025-11-14", "series": "EMA_5_13", "value": 147.5},
      {"date": "2025-11-17", "series": "EMA_5_13", "value": 137},
      {"date": "2025-11-19", "series": "EMA_5_13", "value": 122.7},
      {"date": "2025-11-28", "series": "EMA_5_13", "value": 122.7},
      {"date": "2025-12-01", "series": "EMA_5_13", "value": 124.4},
      {"date": "2025-12-03", "series": "EMA_5_13", "value": 117},
      {"date": "2025-12-06", "series": "EMA_5_13", "value": 124.4},
      {"date": "2025-12-09", "series": "EMA_5_13", "value": 136.9},
      {"date": "2025-12-12", "series": "EMA_5_13", "value": 122.3},
      {"date": "2025-12-16", "series": "EMA_5_13", "value": 116.4},
      {"date": "2025-12-19", "series": "EMA_5_13", "value": 128.6},
      {"date": "2025-12-23", "series": "EMA_5_13", "value": 134.9},
      {"date": "2025-12-27", "series": "EMA_5_13", "value": 139.1},
      {"date": "2025-12-30", "series": "EMA_5_13", "value": 141.2},
      {"date": "2026-01-02", "series": "EMA_5_13", "value": 149.6},
      {"date": "2026-01-05", "series": "EMA_5_13", "value": 162.2},
      {"date": "2026-01-09", "series": "EMA_5_13", "value": 164.2},
      {"date": "2026-01-12", "series": "EMA_5_13", "value": 162.2},
      {"date": "2026-01-14", "series": "EMA_5_13", "value": 170.5},
      {"date": "2026-01-17", "series": "EMA_5_13", "value": 170.5},
      {"date": "2026-01-20", "series": "EMA_5_13", "value": 178.9},
      {"date": "2026-01-24", "series": "EMA_5_13", "value": 183.2},
      {"date": "2026-01-26", "series": "EMA_5_13", "value": 191.6},
      {"date": "2026-01-29", "series": "EMA_5_13", "value": 197.8},
      {"date": "2026-01-30", "series": "EMA_5_13", "value": 205.2},
      {"date": "2026-02-02", "series": "EMA_5_13", "value": 194.7},
      {"date": "2026-02-04", "series": "EMA_5_13", "value": 180},
      {"date": "2026-02-07", "series": "EMA_5_13", "value": 184.2},
      {"date": "2026-02-11", "series": "EMA_5_13", "value": 180},
      {"date": "2026-02-16", "series": "EMA_5_13", "value": 176.8},
      {"date": "2026-02-20", "series": "EMA_5_13", "value": 187.4},
      {"date": "2026-02-23", "series": "EMA_5_13", "value": 184.2},
      {"date": "2026-02-25", "series": "EMA_5_13", "value": 187.4},
      {"date": "2026-03-02", "series": "EMA_5_13", "value": 182.1},
      {"date": "2026-03-03", "series": "EMA_5_13", "value": 167.4},
      {"date": "2026-03-09", "series": "EMA_5_13", "value": 167.4},
      {"date": "2026-03-11", "series": "EMA_5_13", "value": 161.7},
      {"date": "2026-03-14", "series": "EMA_5_13", "value": 174.7},
      {"date": "2026-03-17", "series": "EMA_5_13", "value": 184.2},
      {"date": "2026-03-20", "series": "EMA_5_13", "value": 168.4},
      {"date": "2026-03-23", "series": "EMA_5_13", "value": 158},
      {"date": "2026-04-08", "series": "EMA_5_13", "value": 158},
      {"date": "2026-04-10", "series": "EMA_5_13", "value": 164.2},
      {"date": "2026-04-13", "series": "EMA_5_13", "value": 166.3},
      {"date": "2026-04-14", "series": "EMA_5_13", "value": 180},
      {"date": "2026-04-17", "series": "EMA_5_13", "value": 176.8},
      {"date": "2026-04-20", "series": "EMA_5_13", "value": 173.8},
      {"date": "2026-04-22", "series": "EMA_5_13", "value": 187.4},
      {"date": "2026-04-26", "series": "EMA_5_13", "value": 192.6},
      {"date": "2026-04-29", "series": "EMA_5_13", "value": 199.9},
      {"date": "2026-05-02", "series": "EMA_5_13", "value": 218.8},
      {"date": "2026-05-03", "series": "EMA_5_13", "value": 235.6},
      {"date": "2026-05-06", "series": "EMA_5_13", "value": 252.4},
      {"date": "2026-05-09", "series": "EMA_5_13", "value": 307},
      {"date": "2026-05-12", "series": "EMA_5_13", "value": 311.2},
      {"date": "2026-05-14", "series": "EMA_5_13", "value": 281.8},
      {"date": "2026-05-18", "series": "EMA_5_13", "value": 263.9},
      {"date": "2026-05-21", "series": "EMA_5_13", "value": 295.4},
      {"date": "2026-05-23", "series": "EMA_5_13", "value": 330.1},
      {"date": "2026-05-26", "series": "EMA_5_13", "value": 359.4},
      {"date": "2026-05-29", "series": "EMA_5_13", "value": 388.8},
      {"date": "2026-06-02", "series": "EMA_5_13", "value": 418.2},
      {"date": "2026-06-04", "series": "EMA_5_13", "value": 378.3},
      {"date": "2026-06-06", "series": "EMA_5_13", "value": 349},
      {"date": "2026-06-07", "series": "EMA_5_13", "value": 367.8},
      {"date": "2026-06-10", "series": "EMA_5_13", "value": 345.8},
      {"date": "2026-06-11", "series": "EMA_5_13", "value": 386.7},
      {"date": "2026-06-13", "series": "EMA_5_13", "value": 395.2},
      {"date": "2026-06-14", "series": "EMA_5_13", "value": 420.3},
      {"date": "2026-06-15", "series": "EMA_5_13", "value": 395.2},

      {"date": "2022-01-03", "series": "MACD_12_26_9", "value": 100},
      {"date": "2022-02-16", "series": "MACD_12_26_9", "value": 100},
      {"date": "2022-02-20", "series": "MACD_12_26_9", "value": 99.2},
      {"date": "2022-02-22", "series": "MACD_12_26_9", "value": 96.7},
      {"date": "2022-02-26", "series": "MACD_12_26_9", "value": 99.2},
      {"date": "2022-03-01", "series": "MACD_12_26_9", "value": 103.4},
      {"date": "2022-03-03", "series": "MACD_12_26_9", "value": 91.2},
      {"date": "2022-03-21", "series": "MACD_12_26_9", "value": 91.2},
      {"date": "2022-03-22", "series": "MACD_12_26_9", "value": 87.6},
      {"date": "2022-03-28", "series": "MACD_12_26_9", "value": 95},
      {"date": "2022-04-01", "series": "MACD_12_26_9", "value": 87.6},
      {"date": "2022-04-04", "series": "MACD_12_26_9", "value": 89.7},
      {"date": "2022-04-06", "series": "MACD_12_26_9", "value": 85.5},
      {"date": "2022-04-20", "series": "MACD_12_26_9", "value": 85.5},
      {"date": "2022-04-21", "series": "MACD_12_26_9", "value": 80.7},
      {"date": "2022-05-02", "series": "MACD_12_26_9", "value": 80.7},
      {"date": "2022-05-04", "series": "MACD_12_26_9", "value": 84.1},
      {"date": "2022-05-10", "series": "MACD_12_26_9", "value": 76.5},
      {"date": "2022-05-12", "series": "MACD_12_26_9", "value": 82},
      {"date": "2022-05-16", "series": "MACD_12_26_9", "value": 84.5},
      {"date": "2022-05-19", "series": "MACD_12_26_9", "value": 80.3},
      {"date": "2022-05-24", "series": "MACD_12_26_9", "value": 76.1},
      {"date": "2022-05-30", "series": "MACD_12_26_9", "value": 81.3},
      {"date": "2022-06-03", "series": "MACD_12_26_9", "value": 80.3},
      {"date": "2022-06-08", "series": "MACD_12_26_9", "value": 73},
      {"date": "2022-07-05", "series": "MACD_12_26_9", "value": 73},
      {"date": "2022-07-07", "series": "MACD_12_26_9", "value": 75},
      {"date": "2022-07-15", "series": "MACD_12_26_9", "value": 78.2},
      {"date": "2022-07-19", "series": "MACD_12_26_9", "value": 81.3},
      {"date": "2022-07-23", "series": "MACD_12_26_9", "value": 77.1},
      {"date": "2022-07-29", "series": "MACD_12_26_9", "value": 80.3},
      {"date": "2022-08-03", "series": "MACD_12_26_9", "value": 82},
      {"date": "2022-08-07", "series": "MACD_12_26_9", "value": 77.1},
      {"date": "2022-08-14", "series": "MACD_12_26_9", "value": 76.1},
      {"date": "2022-08-18", "series": "MACD_12_26_9", "value": 71.5},
      {"date": "2022-09-30", "series": "MACD_12_26_9", "value": 71.5},
      {"date": "2022-10-03", "series": "MACD_12_26_9", "value": 76.1},
      {"date": "2022-10-07", "series": "MACD_12_26_9", "value": 73},
      {"date": "2022-10-11", "series": "MACD_12_26_9", "value": 77.1},
      {"date": "2022-10-17", "series": "MACD_12_26_9", "value": 75},
      {"date": "2022-10-22", "series": "MACD_12_26_9", "value": 79.2},
      {"date": "2022-10-26", "series": "MACD_12_26_9", "value": 76.1},
      {"date": "2022-11-02", "series": "MACD_12_26_9", "value": 76.1},
      {"date": "2022-11-07", "series": "MACD_12_26_9", "value": 78.2},
      {"date": "2022-11-12", "series": "MACD_12_26_9", "value": 84.5},
      {"date": "2022-11-15", "series": "MACD_12_26_9", "value": 79.9},
      {"date": "2022-11-20", "series": "MACD_12_26_9", "value": 77.1},
      {"date": "2023-01-04", "series": "MACD_12_26_9", "value": 77.1},
      {"date": "2023-01-08", "series": "MACD_12_26_9", "value": 80.7},
      {"date": "2023-01-13", "series": "MACD_12_26_9", "value": 81.3},
      {"date": "2023-01-18", "series": "MACD_12_26_9", "value": 80.7},
      {"date": "2023-01-22", "series": "MACD_12_26_9", "value": 87},
      {"date": "2023-01-26", "series": "MACD_12_26_9", "value": 90.4},
      {"date": "2023-01-30", "series": "MACD_12_26_9", "value": 87.6},
      {"date": "2023-02-02", "series": "MACD_12_26_9", "value": 89.1},
      {"date": "2023-02-06", "series": "MACD_12_26_9", "value": 85.5},
      {"date": "2023-03-18", "series": "MACD_12_26_9", "value": 85.5},
      {"date": "2023-03-22", "series": "MACD_12_26_9", "value": 90.8},
      {"date": "2023-03-25", "series": "MACD_12_26_9", "value": 88.7},
      {"date": "2023-03-28", "series": "MACD_12_26_9", "value": 93.9},
      {"date": "2023-03-31", "series": "MACD_12_26_9", "value": 88.7},
      {"date": "2023-04-03", "series": "MACD_12_26_9", "value": 86.6},
      {"date": "2023-04-06", "series": "MACD_12_26_9", "value": 84.5},
      {"date": "2023-04-11", "series": "MACD_12_26_9", "value": 84.1},
      {"date": "2023-04-17", "series": "MACD_12_26_9", "value": 82},
      {"date": "2023-04-27", "series": "MACD_12_26_9", "value": 82},
      {"date": "2023-05-03", "series": "MACD_12_26_9", "value": 77.8},
      {"date": "2023-05-15", "series": "MACD_12_26_9", "value": 77.8},
      {"date": "2023-05-19", "series": "MACD_12_26_9", "value": 82},
      {"date": "2023-05-22", "series": "MACD_12_26_9", "value": 79.2},
      {"date": "2023-05-26", "series": "MACD_12_26_9", "value": 88.7},
      {"date": "2023-05-30", "series": "MACD_12_26_9", "value": 85.5},
      {"date": "2023-06-04", "series": "MACD_12_26_9", "value": 81.3},
      {"date": "2023-07-16", "series": "MACD_12_26_9", "value": 80.7},
      {"date": "2023-07-22", "series": "MACD_12_26_9", "value": 82},
      {"date": "2023-07-26", "series": "MACD_12_26_9", "value": 88.3},
      {"date": "2023-07-31", "series": "MACD_12_26_9", "value": 88.3},
      {"date": "2023-08-04", "series": "MACD_12_26_9", "value": 85.5},
      {"date": "2023-08-09", "series": "MACD_12_26_9", "value": 82.8},
      {"date": "2023-08-28", "series": "MACD_12_26_9", "value": 82.8},
      {"date": "2023-09-01", "series": "MACD_12_26_9", "value": 85.5},
      {"date": "2023-09-11", "series": "MACD_12_26_9", "value": 85.5},
      {"date": "2023-09-13", "series": "MACD_12_26_9", "value": 87},
      {"date": "2023-09-20", "series": "MACD_12_26_9", "value": 82.8},
      {"date": "2023-10-10", "series": "MACD_12_26_9", "value": 82.8},
      {"date": "2023-10-17", "series": "MACD_12_26_9", "value": 80.7},
      {"date": "2023-11-03", "series": "MACD_12_26_9", "value": 80.7},
      {"date": "2023-11-08", "series": "MACD_12_26_9", "value": 85.5},
      {"date": "2023-11-14", "series": "MACD_12_26_9", "value": 87.6},
      {"date": "2023-11-19", "series": "MACD_12_26_9", "value": 89.1},
      {"date": "2023-11-27", "series": "MACD_12_26_9", "value": 87},
      {"date": "2023-12-13", "series": "MACD_12_26_9", "value": 87.6},
      {"date": "2023-12-19", "series": "MACD_12_26_9", "value": 91.8},
      {"date": "2023-12-24", "series": "MACD_12_26_9", "value": 94.6},
      {"date": "2024-01-01", "series": "MACD_12_26_9", "value": 89.7},
      {"date": "2024-01-19", "series": "MACD_12_26_9", "value": 89.7},
      {"date": "2024-01-30", "series": "MACD_12_26_9", "value": 86.6},
      {"date": "2024-02-23", "series": "MACD_12_26_9", "value": 86.6},
      {"date": "2024-02-29", "series": "MACD_12_26_9", "value": 91.8},
      {"date": "2024-03-06", "series": "MACD_12_26_9", "value": 95.4},
      {"date": "2024-03-10", "series": "MACD_12_26_9", "value": 91.8},
      {"date": "2024-03-15", "series": "MACD_12_26_9", "value": 88.7},
      {"date": "2024-03-18", "series": "MACD_12_26_9", "value": 89.7},
      {"date": "2024-03-25", "series": "MACD_12_26_9", "value": 94.6},
      {"date": "2024-03-29", "series": "MACD_12_26_9", "value": 97.1},
      {"date": "2024-04-02", "series": "MACD_12_26_9", "value": 102.3},
      {"date": "2024-04-04", "series": "MACD_12_26_9", "value": 99.6},
      {"date": "2024-04-07", "series": "MACD_12_26_9", "value": 99.2},
      {"date": "2024-04-10", "series": "MACD_12_26_9", "value": 102.3},
      {"date": "2024-04-11", "series": "MACD_12_26_9", "value": 99.6},
      {"date": "2024-05-07", "series": "MACD_12_26_9", "value": 99.6},
      {"date": "2024-05-09", "series": "MACD_12_26_9", "value": 100.2},
      {"date": "2024-05-13", "series": "MACD_12_26_9", "value": 105.5},
      {"date": "2024-05-17", "series": "MACD_12_26_9", "value": 104.4},
      {"date": "2024-05-20", "series": "MACD_12_26_9", "value": 106.5},
      {"date": "2024-05-22", "series": "MACD_12_26_9", "value": 104.4},
      {"date": "2024-05-26", "series": "MACD_12_26_9", "value": 109.7},
      {"date": "2024-05-30", "series": "MACD_12_26_9", "value": 103.8},
      {"date": "2024-06-09", "series": "MACD_12_26_9", "value": 103.8},
      {"date": "2024-06-12", "series": "MACD_12_26_9", "value": 109.7},
      {"date": "2024-06-14", "series": "MACD_12_26_9", "value": 111.8},
      {"date": "2024-06-18", "series": "MACD_12_26_9", "value": 117.7},
      {"date": "2024-06-21", "series": "MACD_12_26_9", "value": 107.2},
      {"date": "2024-06-25", "series": "MACD_12_26_9", "value": 108},
      {"date": "2024-08-12", "series": "MACD_12_26_9", "value": 108},
      {"date": "2024-08-14", "series": "MACD_12_26_9", "value": 120.2},
      {"date": "2024-08-20", "series": "MACD_12_26_9", "value": 120.2},
      {"date": "2024-08-22", "series": "MACD_12_26_9", "value": 113.9},
      {"date": "2024-08-28", "series": "MACD_12_26_9", "value": 106.5},
      {"date": "2024-09-03", "series": "MACD_12_26_9", "value": 99.2},
      {"date": "2024-09-13", "series": "MACD_12_26_9", "value": 99.2},
      {"date": "2024-09-16", "series": "MACD_12_26_9", "value": 93.9},
      {"date": "2024-09-21", "series": "MACD_12_26_9", "value": 99.2},
      {"date": "2024-09-24", "series": "MACD_12_26_9", "value": 100.9},
      {"date": "2024-09-26", "series": "MACD_12_26_9", "value": 118.1},
      {"date": "2024-09-29", "series": "MACD_12_26_9", "value": 112.8},
      {"date": "2024-10-02", "series": "MACD_12_26_9", "value": 107.6},
      {"date": "2024-10-06", "series": "MACD_12_26_9", "value": 110.7},
      {"date": "2024-10-10", "series": "MACD_12_26_9", "value": 111.8},
      {"date": "2024-10-11", "series": "MACD_12_26_9", "value": 116},
      {"date": "2024-10-15", "series": "MACD_12_26_9", "value": 117},
      {"date": "2024-10-16", "series": "MACD_12_26_9", "value": 120.6},
      {"date": "2024-10-21", "series": "MACD_12_26_9", "value": 117},
      {"date": "2024-10-23", "series": "MACD_12_26_9", "value": 114.9},
      {"date": "2024-11-07", "series": "MACD_12_26_9", "value": 114.9},
      {"date": "2024-11-11", "series": "MACD_12_26_9", "value": 109.7},
      {"date": "2024-11-12", "series": "MACD_12_26_9", "value": 105.9},
      {"date": "2024-12-02", "series": "MACD_12_26_9", "value": 105.9},
      {"date": "2024-12-06", "series": "MACD_12_26_9", "value": 103.4},
      {"date": "2024-12-09", "series": "MACD_12_26_9", "value": 105.5},
      {"date": "2024-12-12", "series": "MACD_12_26_9", "value": 101.3},
      {"date": "2024-12-16", "series": "MACD_12_26_9", "value": 111.4},
      {"date": "2024-12-18", "series": "MACD_12_26_9", "value": 107.6},
      {"date": "2024-12-20", "series": "MACD_12_26_9", "value": 89.7},
      {"date": "2025-01-05", "series": "MACD_12_26_9", "value": 89.7},
      {"date": "2025-01-09", "series": "MACD_12_26_9", "value": 90.8},
      {"date": "2025-01-13", "series": "MACD_12_26_9", "value": 85.5},
      {"date": "2025-01-17", "series": "MACD_12_26_9", "value": 93.9},
      {"date": "2025-01-21", "series": "MACD_12_26_9", "value": 98.1},
      {"date": "2025-01-22", "series": "MACD_12_26_9", "value": 98.1},
      {"date": "2025-01-27", "series": "MACD_12_26_9", "value": 79.8},
      {"date": "2025-02-12", "series": "MACD_12_26_9", "value": 79.8},
      {"date": "2025-02-18", "series": "MACD_12_26_9", "value": 88.7},
      {"date": "2025-02-22", "series": "MACD_12_26_9", "value": 81.3},
      {"date": "2025-02-26", "series": "MACD_12_26_9", "value": 79.8},
      {"date": "2025-03-01", "series": "MACD_12_26_9", "value": 76.5},
      {"date": "2025-03-13", "series": "MACD_12_26_9", "value": 76.5},
      {"date": "2025-03-16", "series": "MACD_12_26_9", "value": 82.4},
      {"date": "2025-03-20", "series": "MACD_12_26_9", "value": 82.8},
      {"date": "2025-03-22", "series": "MACD_12_26_9", "value": 77.1},
      {"date": "2025-03-26", "series": "MACD_12_26_9", "value": 74},
      {"date": "2025-04-23", "series": "MACD_12_26_9", "value": 74},
      {"date": "2025-04-26", "series": "MACD_12_26_9", "value": 81.3},
      {"date": "2025-04-30", "series": "MACD_12_26_9", "value": 78.2},
      {"date": "2025-05-02", "series": "MACD_12_26_9", "value": 82},
      {"date": "2025-05-04", "series": "MACD_12_26_9", "value": 81.3},
      {"date": "2025-05-08", "series": "MACD_12_26_9", "value": 88.7},
      {"date": "2025-05-12", "series": "MACD_12_26_9", "value": 98.1},
      {"date": "2025-05-17", "series": "MACD_12_26_9", "value": 100.2},
      {"date": "2025-05-20", "series": "MACD_12_26_9", "value": 99.2},
      {"date": "2025-05-24", "series": "MACD_12_26_9", "value": 93.9},
      {"date": "2025-05-29", "series": "MACD_12_26_9", "value": 98.1},
      {"date": "2025-06-02", "series": "MACD_12_26_9", "value": 96},
      {"date": "2025-06-06", "series": "MACD_12_26_9", "value": 102.3},
      {"date": "2025-06-11", "series": "MACD_12_26_9", "value": 108.6},
      {"date": "2025-06-16", "series": "MACD_12_26_9", "value": 114.9},
      {"date": "2025-06-20", "series": "MACD_12_26_9", "value": 116},
      {"date": "2025-06-23", "series": "MACD_12_26_9", "value": 120.2},
      {"date": "2025-06-28", "series": "MACD_12_26_9", "value": 115.6},
      {"date": "2025-08-08", "series": "MACD_12_26_9", "value": 115.6},
      {"date": "2025-08-12", "series": "MACD_12_26_9", "value": 123.9},
      {"date": "2025-08-15", "series": "MACD_12_26_9", "value": 118.1},
      {"date": "2025-08-19", "series": "MACD_12_26_9", "value": 120.2},
      {"date": "2025-08-21", "series": "MACD_12_26_9", "value": 112.8},
      {"date": "2025-09-04", "series": "MACD_12_26_9", "value": 114.9},
      {"date": "2025-09-05", "series": "MACD_12_26_9", "value": 121.2},
      {"date": "2025-09-08", "series": "MACD_12_26_9", "value": 121.2},
      {"date": "2025-09-12", "series": "MACD_12_26_9", "value": 144.3},
      {"date": "2025-09-16", "series": "MACD_12_26_9", "value": 145.8},
      {"date": "2025-09-18", "series": "MACD_12_26_9", "value": 155.9},
      {"date": "2025-09-21", "series": "MACD_12_26_9", "value": 150},
      {"date": "2025-09-22", "series": "MACD_12_26_9", "value": 152.7},
      {"date": "2025-09-26", "series": "MACD_12_26_9", "value": 145},
      {"date": "2025-10-03", "series": "MACD_12_26_9", "value": 145.8},
      {"date": "2025-10-05", "series": "MACD_12_26_9", "value": 151.2},
      {"date": "2025-10-08", "series": "MACD_12_26_9", "value": 155.9},
      {"date": "2025-10-11", "series": "MACD_12_26_9", "value": 145.4},
      {"date": "2025-10-13", "series": "MACD_12_26_9", "value": 151.7},
      {"date": "2025-10-17", "series": "MACD_12_26_9", "value": 148.5},
      {"date": "2025-10-19", "series": "MACD_12_26_9", "value": 151.7},
      {"date": "2025-10-21", "series": "MACD_12_26_9", "value": 145.4},
      {"date": "2025-10-27", "series": "MACD_12_26_9", "value": 146.4},
      {"date": "2025-10-29", "series": "MACD_12_26_9", "value": 150.6},
      {"date": "2025-11-02", "series": "MACD_12_26_9", "value": 156.3},
      {"date": "2025-11-04", "series": "MACD_12_26_9", "value": 145.4},
      {"date": "2025-11-08", "series": "MACD_12_26_9", "value": 153.8},
      {"date": "2025-11-10", "series": "MACD_12_26_9", "value": 154.8},
      {"date": "2025-11-12", "series": "MACD_12_26_9", "value": 144.9},
      {"date": "2025-12-08", "series": "MACD_12_26_9", "value": 144.9},
      {"date": "2025-12-10", "series": "MACD_12_26_9", "value": 151.2},
      {"date": "2025-12-12", "series": "MACD_12_26_9", "value": 138},
      {"date": "2025-12-15", "series": "MACD_12_26_9", "value": 135.9},
      {"date": "2025-12-19", "series": "MACD_12_26_9", "value": 136.5},
      {"date": "2025-12-23", "series": "MACD_12_26_9", "value": 145.8},
      {"date": "2025-12-27", "series": "MACD_12_26_9", "value": 150},
      {"date": "2025-12-30", "series": "MACD_12_26_9", "value": 145.8},
      {"date": "2026-01-02", "series": "MACD_12_26_9", "value": 161.1},
      {"date": "2026-01-05", "series": "MACD_12_26_9", "value": 161.1},
      {"date": "2026-01-06", "series": "MACD_12_26_9", "value": 175.8},
      {"date": "2026-01-09", "series": "MACD_12_26_9", "value": 171.6},
      {"date": "2026-01-12", "series": "MACD_12_26_9", "value": 176.8},
      {"date": "2026-01-14", "series": "MACD_12_26_9", "value": 171.6},
      {"date": "2026-01-16", "series": "MACD_12_26_9", "value": 185.7},
      {"date": "2026-01-20", "series": "MACD_12_26_9", "value": 186.3},
      {"date": "2026-01-22", "series": "MACD_12_26_9", "value": 204.1},
      {"date": "2026-01-25", "series": "MACD_12_26_9", "value": 203.1},
      {"date": "2026-01-28", "series": "MACD_12_26_9", "value": 223},
      {"date": "2026-01-29", "series": "MACD_12_26_9", "value": 213.5},
      {"date": "2026-02-02", "series": "MACD_12_26_9", "value": 224.1},
      {"date": "2026-02-04", "series": "MACD_12_26_9", "value": 194.7},
      {"date": "2026-03-14", "series": "MACD_12_26_9", "value": 194.7},
      {"date": "2026-03-17", "series": "MACD_12_26_9", "value": 203.1},
      {"date": "2026-03-20", "series": "MACD_12_26_9", "value": 184.2},
      {"date": "2026-03-23", "series": "MACD_12_26_9", "value": 177.9},
      {"date": "2026-04-06", "series": "MACD_12_26_9", "value": 177.9},
      {"date": "2026-04-09", "series": "MACD_12_26_9", "value": 184.2},
      {"date": "2026-04-12", "series": "MACD_12_26_9", "value": 185.7},
      {"date": "2026-04-14", "series": "MACD_12_26_9", "value": 203.1},
      {"date": "2026-04-17", "series": "MACD_12_26_9", "value": 197.8},
      {"date": "2026-04-20", "series": "MACD_12_26_9", "value": 195.7},
      {"date": "2026-04-21", "series": "MACD_12_26_9", "value": 213.6},
      {"date": "2026-04-25", "series": "MACD_12_26_9", "value": 229.3},
      {"date": "2026-04-28", "series": "MACD_12_26_9", "value": 220.9},
      {"date": "2026-04-30", "series": "MACD_12_26_9", "value": 241.9},
      {"date": "2026-05-04", "series": "MACD_12_26_9", "value": 254.5},
      {"date": "2026-05-06", "series": "MACD_12_26_9", "value": 290.2},
      {"date": "2026-05-07", "series": "MACD_12_26_9", "value": 325.9},
      {"date": "2026-05-10", "series": "MACD_12_26_9", "value": 347.9},
      {"date": "2026-05-13", "series": "MACD_12_26_9", "value": 351.1},
      {"date": "2026-05-14", "series": "MACD_12_26_9", "value": 334.3},
      {"date": "2026-05-18", "series": "MACD_12_26_9", "value": 297.5},
      {"date": "2026-05-20", "series": "MACD_12_26_9", "value": 319.6},
      {"date": "2026-05-24", "series": "MACD_12_26_9", "value": 319.6},
      {"date": "2026-05-26", "series": "MACD_12_26_9", "value": 330.1},
      {"date": "2026-05-29", "series": "MACD_12_26_9", "value": 359.4},
      {"date": "2026-06-02", "series": "MACD_12_26_9", "value": 384.6},
      {"date": "2026-06-05", "series": "MACD_12_26_9", "value": 308},
      {"date": "2026-06-08", "series": "MACD_12_26_9", "value": 338.5},
      {"date": "2026-06-16", "series": "MACD_12_26_9", "value": 338.5}
    ]
  },
  "mark": {"type": "line", "strokeWidth": 3.75, "strokeJoin": "round", "clip": true},
  "encoding": {
    "x": {
      "field": "date",
      "type": "temporal",
      "title": null,
      "scale": {
        "type": "utc",
        "domain": [
          {"year": 2021, "month": 10, "date": 13, "utc": true},
          {"year": 2026, "month": 9, "date": 5, "utc": true}
        ],
        "nice": false
      },
      "axis": {
        "values": [
          {"year": 2022, "month": 1, "date": 1, "utc": true},
          {"year": 2022, "month": 7, "date": 1, "utc": true},
          {"year": 2023, "month": 1, "date": 1, "utc": true},
          {"year": 2023, "month": 7, "date": 1, "utc": true},
          {"year": 2024, "month": 1, "date": 1, "utc": true},
          {"year": 2024, "month": 7, "date": 1, "utc": true},
          {"year": 2025, "month": 1, "date": 1, "utc": true},
          {"year": 2025, "month": 7, "date": 1, "utc": true},
          {"year": 2026, "month": 1, "date": 1, "utc": true},
          {"year": 2026, "month": 7, "date": 1, "utc": true}
        ],
        "labelExpr": "utcFormat(datum.value, '%Y-%m')",
        "labelAngle": -30,
        "labelAlign": "right",
        "labelBaseline": "top",
        "labelPadding": 10,
        "labelOffset": -11,
        "labelOverlap": false,
        "labelBound": false
      }
    },
    "y": {
      "field": "value",
      "type": "quantitative",
      "title": null,
      "scale": {"domain": [29, 440], "nice": false, "zero": false},
      "axis": {
        "values": [50, 100, 150, 200, 250, 300, 350, 400],
        "labelPadding": 12,
        "labelOverlap": false
      }
    },
    "color": {
      "field": "series",
      "type": "nominal",
      "title": null,
      "scale": {
        "domain": ["SMA_4_9_18", "EMA_5_13", "MACD_12_26_9"],
        "range": ["#1f77b4", "#ff7f0e", "#2ca02c"]
      },
      "legend": {
        "orient": "none",
        "legendX": 13.6,
        "legendY": 14,
        "symbolType": "M-1.2,0H3.3",
        "symbolSize": 625,
        "symbolStrokeWidth": 3.75,
        "labelOffset": 48,
        "labelLimit": 0,
        "padding": 10,
        "rowPadding": 14.5,
        "strokeColor": "#cccccc",
        "fillColor": "rgba(255,255,255,0.8)",
        "cornerRadius": 5
      }
    }
  },
  "config": {
    "view": {"stroke": "#000", "strokeWidth": 2},
    "axis": {
      "grid": false,
      "domainColor": "#000",
      "domainWidth": 2,
      "tickColor": "#000",
      "tickWidth": 2,
      "tickSize": 9,
      "labelColor": "#000",
      "labelFont": "DejaVu Sans",
      "labelFontSize": 24.5
    },
    "legend": {
      "labelFont": "DejaVu Sans",
      "labelFontSize": 24.5,
      "labelColor": "#000",
      "strokeWidth": 2
    }
  }
}
